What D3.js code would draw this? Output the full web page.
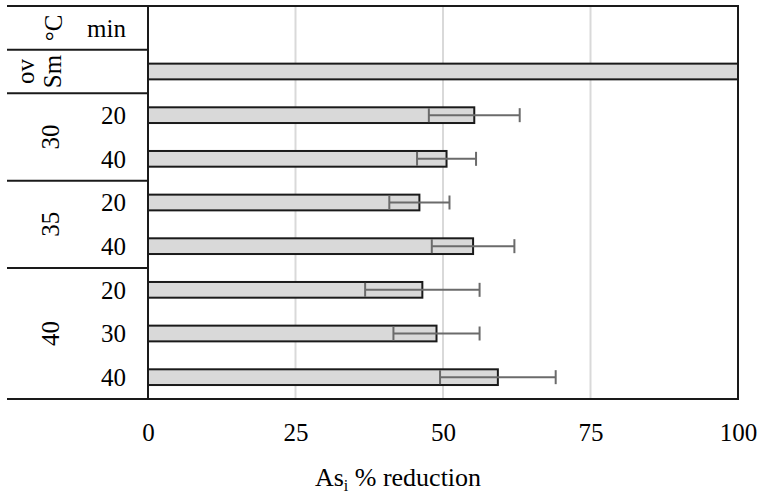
<!DOCTYPE html>
<html>
<head>
<meta charset="utf-8">
<script src="https://cdn.jsdelivr.net/npm/d3@7"></script>
<style>
  body { margin: 0; background: #fff; }
  text { font-family: "Liberation Serif", "DejaVu Serif", serif; fill: #000; }
</style>
</head>
<body>
<svg id="chart" width="760" height="495"></svg>
<script>
// rows of the table, top to bottom (first row is the header)
var temps = ["30", "30", "35", "35", "40", "40", "40"];
var times = ["20", "40", "20", "40", "20", "30", "40"];
var reduction = [55.3, 50.6, 46.0, 55.1, 46.5, 48.9, 59.3];
var errs = [7.7, 5.0, 5.1, 7.0, 9.7, 7.3, 9.8];
var smValue = 100;
var groups = ["30", "35", "40"];
var xTicks = [0, 25, 50, 75, 100];

var svg = d3.select("#chart");
var plotL = 148, plotR = 738, plotT = 6, plotB = 399;

var rows = ["head", "sm"].concat(times.map((d, i) => "r" + i));
var y = d3.scaleBand().domain(rows).range([plotT, plotB]);
var x = d3.scaleLinear().domain([0, 100]).range([plotL, plotR]);
var barH = y.bandwidth() * 0.36;

// grid
svg.append("g")
  .selectAll("line")
  .data(xTicks.slice(1, -1))
  .join("line")
  .attr("x1", d => x(d)).attr("x2", d => x(d))
  .attr("y1", plotT).attr("y2", plotB)
  .style("stroke", "#d9d9d9")
  .style("stroke-width", 2);

// bars
var bars = [{key: "sm", v: smValue, e: 0}].concat(
  reduction.map((v, i) => ({key: "r" + i, v: v, e: errs[i]}))
);

svg.append("g")
  .selectAll("rect")
  .data(bars)
  .join("rect")
  .attr("x", x(0))
  .attr("y", d => y(d.key) + y.bandwidth() / 2 - barH / 2)
  .attr("width", d => x(d.v) - x(0))
  .attr("height", barH)
  .style("fill", "#d9d9d9")
  .style("stroke", "#1a1a1a")
  .style("stroke-width", 2);

// error bars
var eb = svg.append("g")
  .selectAll("g")
  .data(bars.filter(d => d.e > 0))
  .join("g")
  .attr("transform", d => "translate(0," + (y(d.key) + y.bandwidth() / 2) + ")")
  .style("stroke", "#6b6b6b")
  .style("stroke-width", 2);
eb.append("line")
  .attr("x1", d => x(d.v - d.e)).attr("x2", d => x(d.v + d.e));
eb.append("line")
  .attr("x1", d => x(d.v - d.e)).attr("x2", d => x(d.v - d.e))
  .attr("y1", -7).attr("y2", 7);
eb.append("line")
  .attr("x1", d => x(d.v + d.e)).attr("x2", d => x(d.v + d.e))
  .attr("y1", -7).attr("y2", 7);

// table lines
var lines = svg.append("g").style("stroke", "#1a1a1a").style("stroke-width", 2);
lines.append("line").attr("x1", 7).attr("x2", plotR + 1).attr("y1", plotT).attr("y2", plotT);
lines.append("line").attr("x1", 7).attr("x2", plotR + 1).attr("y1", plotB).attr("y2", plotB);
lines.append("line").attr("x1", plotL).attr("x2", plotL).attr("y1", plotT).attr("y2", plotB);
lines.append("line").attr("x1", plotR).attr("x2", plotR).attr("y1", plotT).attr("y2", plotB);
// group separators
var seps = ["sm", "r0", "r2", "r4"];
lines.selectAll("line.sep")
  .data(seps)
  .join("line")
  .attr("class", "sep")
  .attr("x1", 7).attr("x2", plotL)
  .attr("y1", d => y(d)).attr("y2", d => y(d));

var fs = 25;
function rotText(xp, yp, t) {
  svg.append("text")
    .attr("transform", "translate(" + xp + "," + yp + ") rotate(-90)")
    .attr("text-anchor", "middle")
    .attr("dy", "0.35em")
    .style("font-size", fs + "px")
    .text(t);
}
var mid = k => y(k) + y.bandwidth() / 2;

rotText(53, mid("head"), "°C");
rotText(25, mid("sm"), "ov");
rotText(52, mid("sm"), "Sm");

svg.append("text")
  .attr("x", 126).attr("y", mid("head"))
  .attr("dy", "0.35em")
  .attr("text-anchor", "end")
  .style("font-size", fs + "px")
  .text("min");

groups.forEach(function(g) {
  var idx = temps.map((t, i) => t === g ? i : -1).filter(i => i >= 0);
  var y0 = y("r" + idx[0]), y1 = y("r" + idx[idx.length - 1]) + y.bandwidth();
  rotText(50, (y0 + y1) / 2, g);
});

svg.append("g")
  .selectAll("text")
  .data(times)
  .join("text")
  .attr("x", 126)
  .attr("y", (d, i) => mid("r" + i))
  .attr("dy", "0.35em")
  .attr("text-anchor", "end")
  .style("font-size", fs + "px")
  .text(d => d);

// x axis
var xAxis = svg.append("g")
  .attr("transform", "translate(0," + plotB + ")")
  .call(d3.axisBottom(x).tickValues(xTicks).tickSize(0).tickPadding(24));
xAxis.select(".domain").remove();
xAxis.selectAll("text")
  .style("font-family", "Liberation Serif, serif")
  .style("font-size", fs + "px")
  .attr("fill", "#000");

var title = svg.append("text")
  .attr("x", 398).attr("y", 486)
  .attr("text-anchor", "middle")
  .style("font-size", "26px");
title.append("tspan").text("As");
title.append("tspan").attr("dy", 5).style("font-size", "16px").text("i");
title.append("tspan").attr("dy", -5).text(" % reduction");
</script>
</body>
</html>
